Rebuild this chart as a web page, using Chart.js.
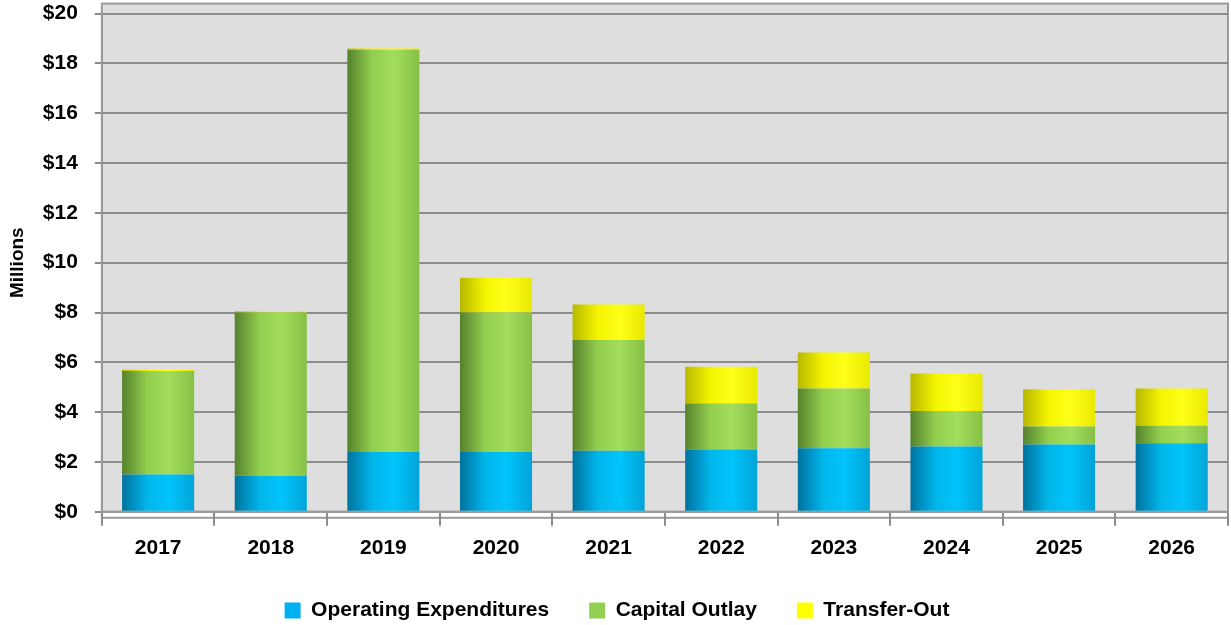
<!DOCTYPE html>
<html>
<head>
<meta charset="utf-8">
<script src="https://cdn.jsdelivr.net/npm/chart.js@4/dist/chart.umd.min.js"></script>
<style>
  html, body { margin: 0; padding: 0; background: #ffffff; }
  #wrap { width: 1231px; height: 625px; }
</style>
</head>
<body>
<div id="wrap"><canvas id="canvas"></canvas></div>
<script>
// values in $ millions
var years = ['2017','2018','2019','2020','2021','2022','2023','2024','2025','2026'];
var operating = [1.5, 1.45, 2.4, 2.4, 2.45, 2.5, 2.55, 2.62, 2.7, 2.75];
var capital   = [4.15, 6.55, 16.15, 5.6, 4.45, 1.85, 2.4, 1.43, 0.72, 0.7];
var transfer  = [0.05, 0.05, 0.05, 1.4, 1.42, 1.47, 1.45, 1.5, 1.5, 1.5];

var barPct = 0.64;

// horizontal gradient so the bars look a bit like the cylinders
function cylinder(stops) {
  return function(context) {
    var chart = context.chart;
    var x = chart.scales.x;
    if (!x || !chart.chartArea || context.dataIndex === undefined) return stops[2];
    var cx = x.getPixelForValue(context.dataIndex);
    var w = chart.chartArea.width / years.length * barPct;
    var g = chart.ctx.createLinearGradient(cx - w / 2, 0, cx + w / 2, 0);
    g.addColorStop(0, stops[0]);
    g.addColorStop(0.35, stops[1]);
    g.addColorStop(0.65, stops[2]);
    g.addColorStop(1, stops[3]);
    return g;
  };
}

var plotBg = {
  id: 'plotBg',
  afterLayout: function(chart) {
    // pull the legend back up a bit
    if (chart.legend) {
      chart.legend.top -= 11;
      chart.legend.bottom -= 11;
    }
  },
  beforeDraw: function(chart) {
    var a = chart.chartArea, ctx = chart.ctx;
    ctx.save();
    ctx.fillStyle = '#dedede';
    ctx.fillRect(a.left, a.top - 10, a.right - a.left, a.bottom - a.top + 10);
    ctx.strokeStyle = '#9a9a9a';
    ctx.lineWidth = 2;
    ctx.strokeRect(a.left, a.top - 10, a.right - a.left, a.bottom - a.top + 10);
    // thin white floor under the plot
    ctx.fillStyle = '#ffffff';
    ctx.fillRect(a.left, a.bottom, a.right - a.left, 6);
    ctx.strokeRect(a.left, a.bottom, a.right - a.left, 6);
    ctx.restore();
  }
};

const ctx = document.getElementById('canvas');

new Chart(ctx, {
  type: 'bar',
  data: {
    labels: years,
    datasets: [{
      label: 'Operating Expenditures',
      data: operating,
      backgroundColor: cylinder(['#00729e', '#00b6ea', '#00c4fa', '#00a4d8']),
      borderWidth: 0
    }, {
      label: 'Capital Outlay',
      data: capital,
      backgroundColor: cylinder(['#55822c', '#93cf4f', '#a2de5c', '#86c047']),
      borderWidth: 0
    }, {
      label: 'Transfer-Out',
      data: transfer,
      backgroundColor: cylinder(['#b8b800', '#f4f400', '#ffff1a', '#e8e800']),
      borderWidth: 0
    }]
  },
  options: {
    responsive: true,
    maintainAspectRatio: false,
    animation: false,
    layout: { padding: { top: 0, right: 3, left: 6, bottom: -17 } },
    datasets: { bar: { barPercentage: barPct, categoryPercentage: 1 } },
    plugins: {
      legend: {
        position: 'bottom',
        labels: {
          color: '#000',
          font: { family: 'Liberation Sans', size: 21, weight: 'bold' },
          boxWidth: 16,
          boxHeight: 16,
          padding: 40,
          generateLabels: function(chart) {
            var cols = ['#00b0f0', '#92d050', '#ffff00'];
            return chart.data.datasets.map(function(ds, i) {
              return { text: ds.label, fillStyle: cols[i], strokeStyle: cols[i], lineWidth: 0, datasetIndex: i };
            });
          }
        }
      },
      tooltip: { enabled: false }
    },
    scales: {
      x: {
        stacked: true,
        grid: { offset: true, drawOnChartArea: false, color: '#8c8c8c', lineWidth: 2, tickLength: 14 },
        border: { color: '#9a9a9a', width: 2 },
        ticks: { color: '#000', font: { family: 'Liberation Sans', size: 21, weight: 'bold' }, padding: 10 }
      },
      y: {
        stacked: true,
        min: 0,
        max: 20,
        ticks: {
          stepSize: 2,
          color: '#000',
          padding: 1,
          font: { family: 'Liberation Sans', size: 21, weight: 'bold' },
          callback: function(v) { return '$' + v; }
        },
        // long tick area, but only the last 7px of it is drawn
        grid: { color: '#8c8c8c', lineWidth: 2, tickLength: 23, tickBorderDash: [0, 16, 7, 0] },
        border: { color: '#9a9a9a', width: 2 },
        title: {
          display: true,
          text: 'Millions',
          color: '#000',
          padding: { top: 0, bottom: 13 },
          font: { family: 'Liberation Sans', size: 19, weight: 'bold' }
        }
      }
    }
  },
  plugins: [plotBg]
});
</script>
</body>
</html>
